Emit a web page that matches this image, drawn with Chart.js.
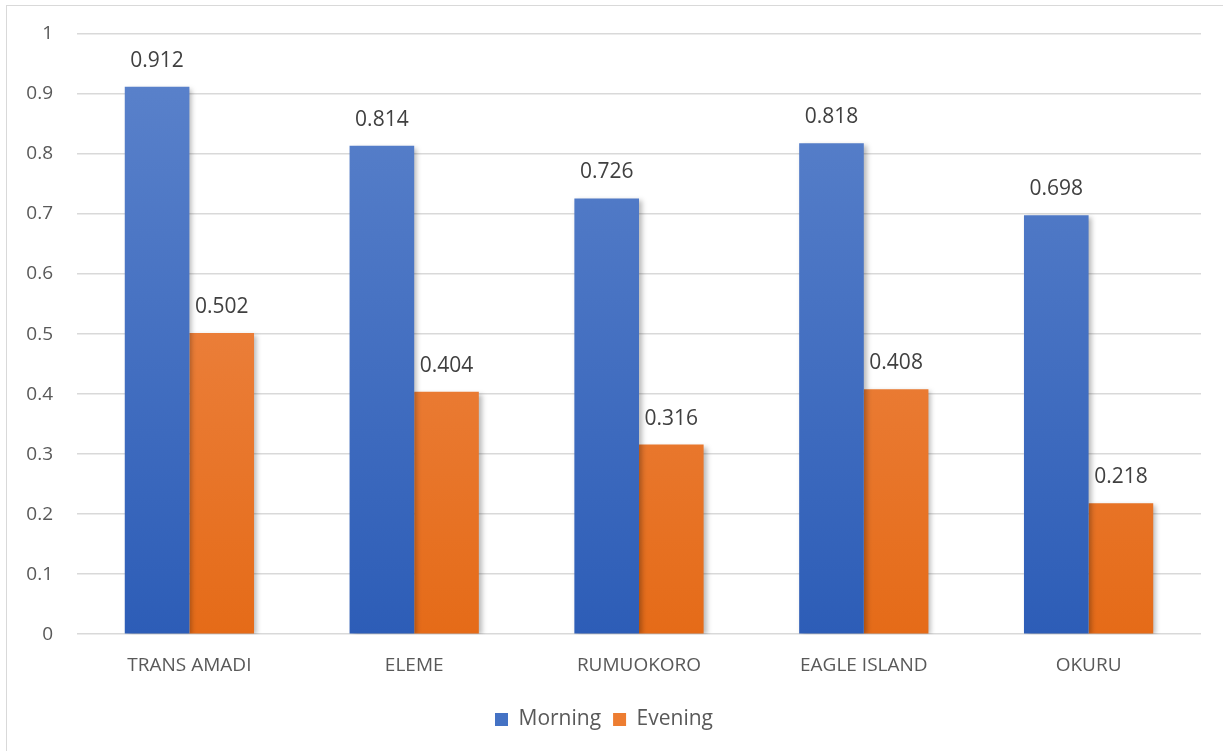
<!DOCTYPE html>
<html>
<head>
<meta charset="utf-8">
<script src="https://cdn.jsdelivr.net/npm/chart.js@4.4.1/dist/chart.umd.min.js"></script>
<style>
    body { margin: 0; background: #fff; overflow: hidden; }
    #frame {
        position: absolute;
        left: 6px;
        top: 5px;
        width: 1216px;
        height: 745px;
        border: 1px solid #d9d9d9;
    }
</style>
</head>
<body>
<div id="frame"><canvas id="sampleChart" width="1216" height="745"></canvas></div>
<script>
const sites = ['TRANS AMADI', 'ELEME', 'RUMUOKORO', 'EAGLE ISLAND', 'OKURU'];
const morning = [0.912, 0.814, 0.726, 0.818, 0.698];
const evening = [0.502, 0.404, 0.316, 0.408, 0.218];
const yTicks = [0, 0.1, 0.2, 0.3, 0.4, 0.5, 0.6, 0.7, 0.8, 0.9, 1];

const fontFamily = "'Open Sans', 'Liberation Sans', sans-serif";

// vertical gradient per bar, lighter at the top
function barGradient(context, top, bottom) {
    const chart = context.chart;
    const area = chart.chartArea;
    if (!area) return bottom;
    const g = chart.ctx.createLinearGradient(0, area.top, 0, area.bottom);
    g.addColorStop(0, top);
    g.addColorStop(1, bottom);
    return g;
}

// soft drop shadow behind the bars
const barShadow = {
    id: 'barShadow',
    beforeDatasetsDraw(chart) {
        const ctx = chart.ctx;
        ctx.save();
        ctx.shadowColor = 'rgba(0, 0, 0, 0.28)';
        ctx.shadowBlur = 5;
        ctx.shadowOffsetX = 3;
        ctx.shadowOffsetY = 2;
    },
    afterDatasetsDraw(chart) {
        chart.ctx.restore();
    }
};

// value printed above each bar
const valueLabels = {
    id: 'valueLabels',
    afterDatasetsDraw(chart) {
        const ctx = chart.ctx;
        ctx.save();
        ctx.font = '21px ' + fontFamily;
        ctx.fillStyle = '#404040';
        ctx.textAlign = 'center';
        ctx.textBaseline = 'middle';
        chart.data.datasets.forEach((ds, i) => {
            chart.getDatasetMeta(i).data.forEach((bar, j) => {
                ctx.fillText(ds.data[j].toFixed(3), bar.x, bar.y - 26);
            });
        });
        ctx.restore();
    }
};

new Chart(document.getElementById('sampleChart'), {
    type: 'bar',
    data: {
        labels: sites,
        datasets: [
            {
                label: 'Morning',
                data: morning,
                backgroundColor: ctx => barGradient(ctx, '#5d84cc', '#2d5db7'),
                legendColor: '#4472c4'
            },
            {
                label: 'Evening',
                data: evening,
                backgroundColor: ctx => barGradient(ctx, '#f09058', '#e56b18'),
                legendColor: '#ed7d31'
            }
        ]
    },
    options: {
        responsive: false,
        animation: false,
        layout: {
            padding: { top: 28, right: 22, bottom: 11, left: 0 }
        },
        datasets: {
            bar: {
                barPercentage: 1,
                categoryPercentage: 0.575
            }
        },
        scales: {
            x: {
                grid: { display: false, drawTicks: false },
                border: { display: false },
                ticks: {
                    color: '#595959',
                    font: { family: fontFamily, size: 19 },
                    padding: 20
                }
            },
            y: {
                min: 0,
                max: 1,
                afterFit(scale) { scale.width = 70; },
                afterBuildTicks(scale) {
                    scale.ticks = yTicks.map(v => ({ value: v }));
                },
                // invisible tick marks push the labels left without adding top padding
                grid: {
                    color: '#d9d9d9',
                    lineWidth: 1.5,
                    drawTicks: true,
                    tickLength: 20,
                    tickColor: 'rgba(0,0,0,0)'
                },
                border: { display: false },
                ticks: {
                    color: '#595959',
                    font: { family: fontFamily, size: 19 },
                    padding: 4,
                    callback: v => String(Math.round(v * 10) / 10)
                }
            }
        },
        plugins: {
            tooltip: { enabled: false },
            legend: {
                position: 'bottom',
                labels: {
                    color: '#595959',
                    font: { family: fontFamily, size: 21 },
                    boxWidth: 13,
                    boxHeight: 13,
                    padding: 12,
                    generateLabels(chart) {
                        return chart.data.datasets.map((ds, i) => ({
                            text: ds.label,
                            fillStyle: ds.legendColor,
                            strokeStyle: ds.legendColor,
                            lineWidth: 0,
                            fontColor: '#595959',
                            datasetIndex: i
                        }));
                    }
                }
            }
        }
    },
    plugins: [barShadow, valueLabels]
});
</script>
</body>
</html>
